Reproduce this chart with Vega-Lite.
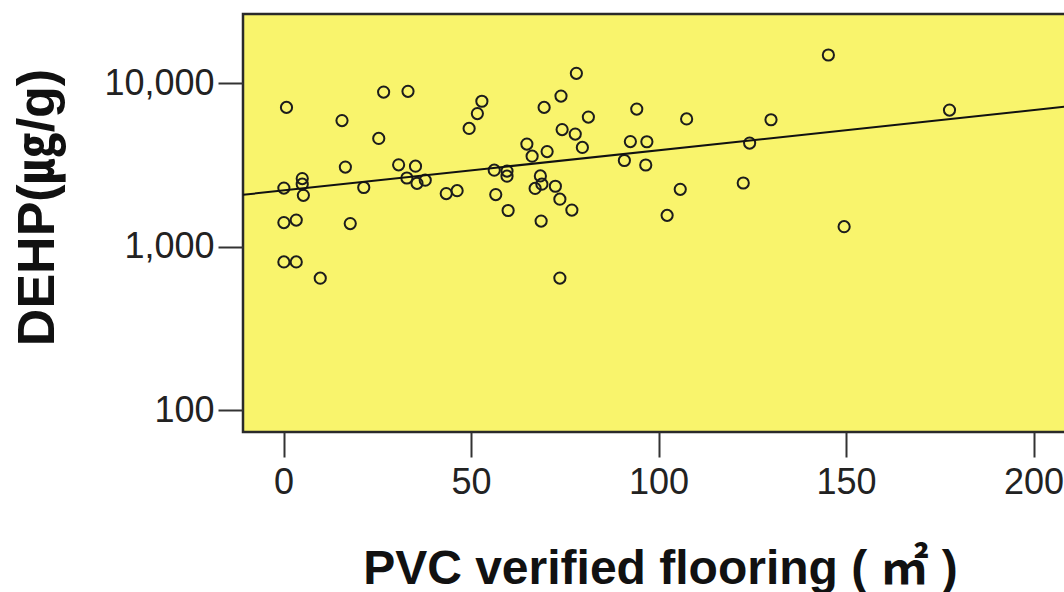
{
  "$schema": "https://vega.github.io/schema/vega-lite/v6.json",
  "autosize": {"type": "none"},
  "padding": {"left": 243, "top": 14, "right": -7, "bottom": 160},
  "width": 828,
  "height": 418,
  "background": "white",
  "config": {
    "view": {"fill": "#f9f46c", "stroke": "#2a2a2a", "strokeWidth": 2.5},
    "font": "Liberation Sans, Noto Sans CJK KR, sans-serif"
  },
  "datasets": {
    "points": [
      {"x": 0.8, "y": 7140}, {"x": 26.7, "y": 8860}, {"x": 33.2, "y": 8950}, {"x": 15.6, "y": 5930},
      {"x": 25.4, "y": 4610}, {"x": 16.5, "y": 3080}, {"x": 30.7, "y": 3180}, {"x": 35.2, "y": 3120},
      {"x": 5.0, "y": 2620}, {"x": 5.0, "y": 2420}, {"x": 5.3, "y": 2070}, {"x": 0.1, "y": 2290},
      {"x": 21.4, "y": 2310}, {"x": 0.1, "y": 1410}, {"x": 3.4, "y": 1460}, {"x": 17.8, "y": 1390},
      {"x": 0.1, "y": 810}, {"x": 3.4, "y": 810}, {"x": 9.8, "y": 644}, {"x": 32.9, "y": 2640},
      {"x": 35.6, "y": 2450}, {"x": 37.8, "y": 2560}, {"x": 43.4, "y": 2120}, {"x": 46.3, "y": 2210},
      {"x": 52.9, "y": 7780}, {"x": 51.7, "y": 6540}, {"x": 49.5, "y": 5310}, {"x": 56.2, "y": 2950},
      {"x": 59.6, "y": 2910}, {"x": 59.6, "y": 2710}, {"x": 56.6, "y": 2090}, {"x": 59.9, "y": 1670},
      {"x": 78.1, "y": 11530}, {"x": 74.0, "y": 8370}, {"x": 69.5, "y": 7140}, {"x": 94.2, "y": 6970},
      {"x": 81.3, "y": 6230}, {"x": 74.3, "y": 5220}, {"x": 77.8, "y": 4900}, {"x": 79.7, "y": 4060},
      {"x": 64.9, "y": 4260}, {"x": 70.3, "y": 3830}, {"x": 66.3, "y": 3590}, {"x": 92.5, "y": 4410},
      {"x": 96.9, "y": 4400}, {"x": 90.9, "y": 3380}, {"x": 96.6, "y": 3170}, {"x": 68.5, "y": 2720},
      {"x": 67.1, "y": 2280}, {"x": 68.9, "y": 2420}, {"x": 72.5, "y": 2350}, {"x": 73.7, "y": 1960},
      {"x": 76.9, "y": 1680}, {"x": 68.7, "y": 1440}, {"x": 73.7, "y": 645}, {"x": 107.5, "y": 6070},
      {"x": 130.0, "y": 6000}, {"x": 124.3, "y": 4320}, {"x": 105.8, "y": 2250}, {"x": 122.6, "y": 2460},
      {"x": 102.3, "y": 1560}, {"x": 145.3, "y": 14930}, {"x": 177.6, "y": 6870}, {"x": 149.5, "y": 1330}
    ],
    "fit": [{"x": -10.8, "y": 2085}, {"x": 210, "y": 7275}]
  },
  "layer": [
    {
      "data": {"name": "points"},
      "mark": {"type": "point", "shape": "circle", "filled": false, "size": 125, "stroke": "#1c1c1c", "strokeWidth": 2, "opacity": 1},
      "encoding": {
        "x": {
          "field": "x", "type": "quantitative",
          "scale": {"domain": [-10.8, 210], "nice": false, "zero": false},
          "axis": {
            "title": "PVC verified flooring ( ㎡ )",
            "values": [0, 50, 100, 150, 200],
            "grid": false, "domain": false,
            "tickSize": 25, "tickWidth": 2, "tickColor": "#333",
            "labelFontSize": 36, "labelColor": "#222", "labelPadding": 8,
            "titleFontSize": 48, "titleFontWeight": "bold", "titleColor": "#111",
            "titleBaseline": "alphabetic", "titleY": 151, "titleX": 417
          }
        },
        "y": {
          "field": "y", "type": "quantitative",
          "scale": {"type": "log", "domain": [73.8, 26600], "nice": false},
          "axis": {
            "title": "DEHP(㎍/g)",
            "values": [100, 1000, 10000],
            "format": ",",
            "grid": false, "domain": false,
            "tickSize": 25, "tickWidth": 2, "tickColor": "#333",
            "labelFontSize": 36, "labelColor": "#222", "labelPadding": 4,
            "titleFontSize": 52, "titleFontWeight": "bold", "titleColor": "#111",
            "titleBaseline": "alphabetic", "titleX": -190, "titleY": 193
          }
        }
      }
    },
    {
      "data": {"name": "fit"},
      "mark": {"type": "line", "stroke": "#111", "strokeWidth": 2, "clip": true},
      "encoding": {
        "x": {"field": "x", "type": "quantitative"},
        "y": {"field": "y", "type": "quantitative"}
      }
    }
  ]
}
